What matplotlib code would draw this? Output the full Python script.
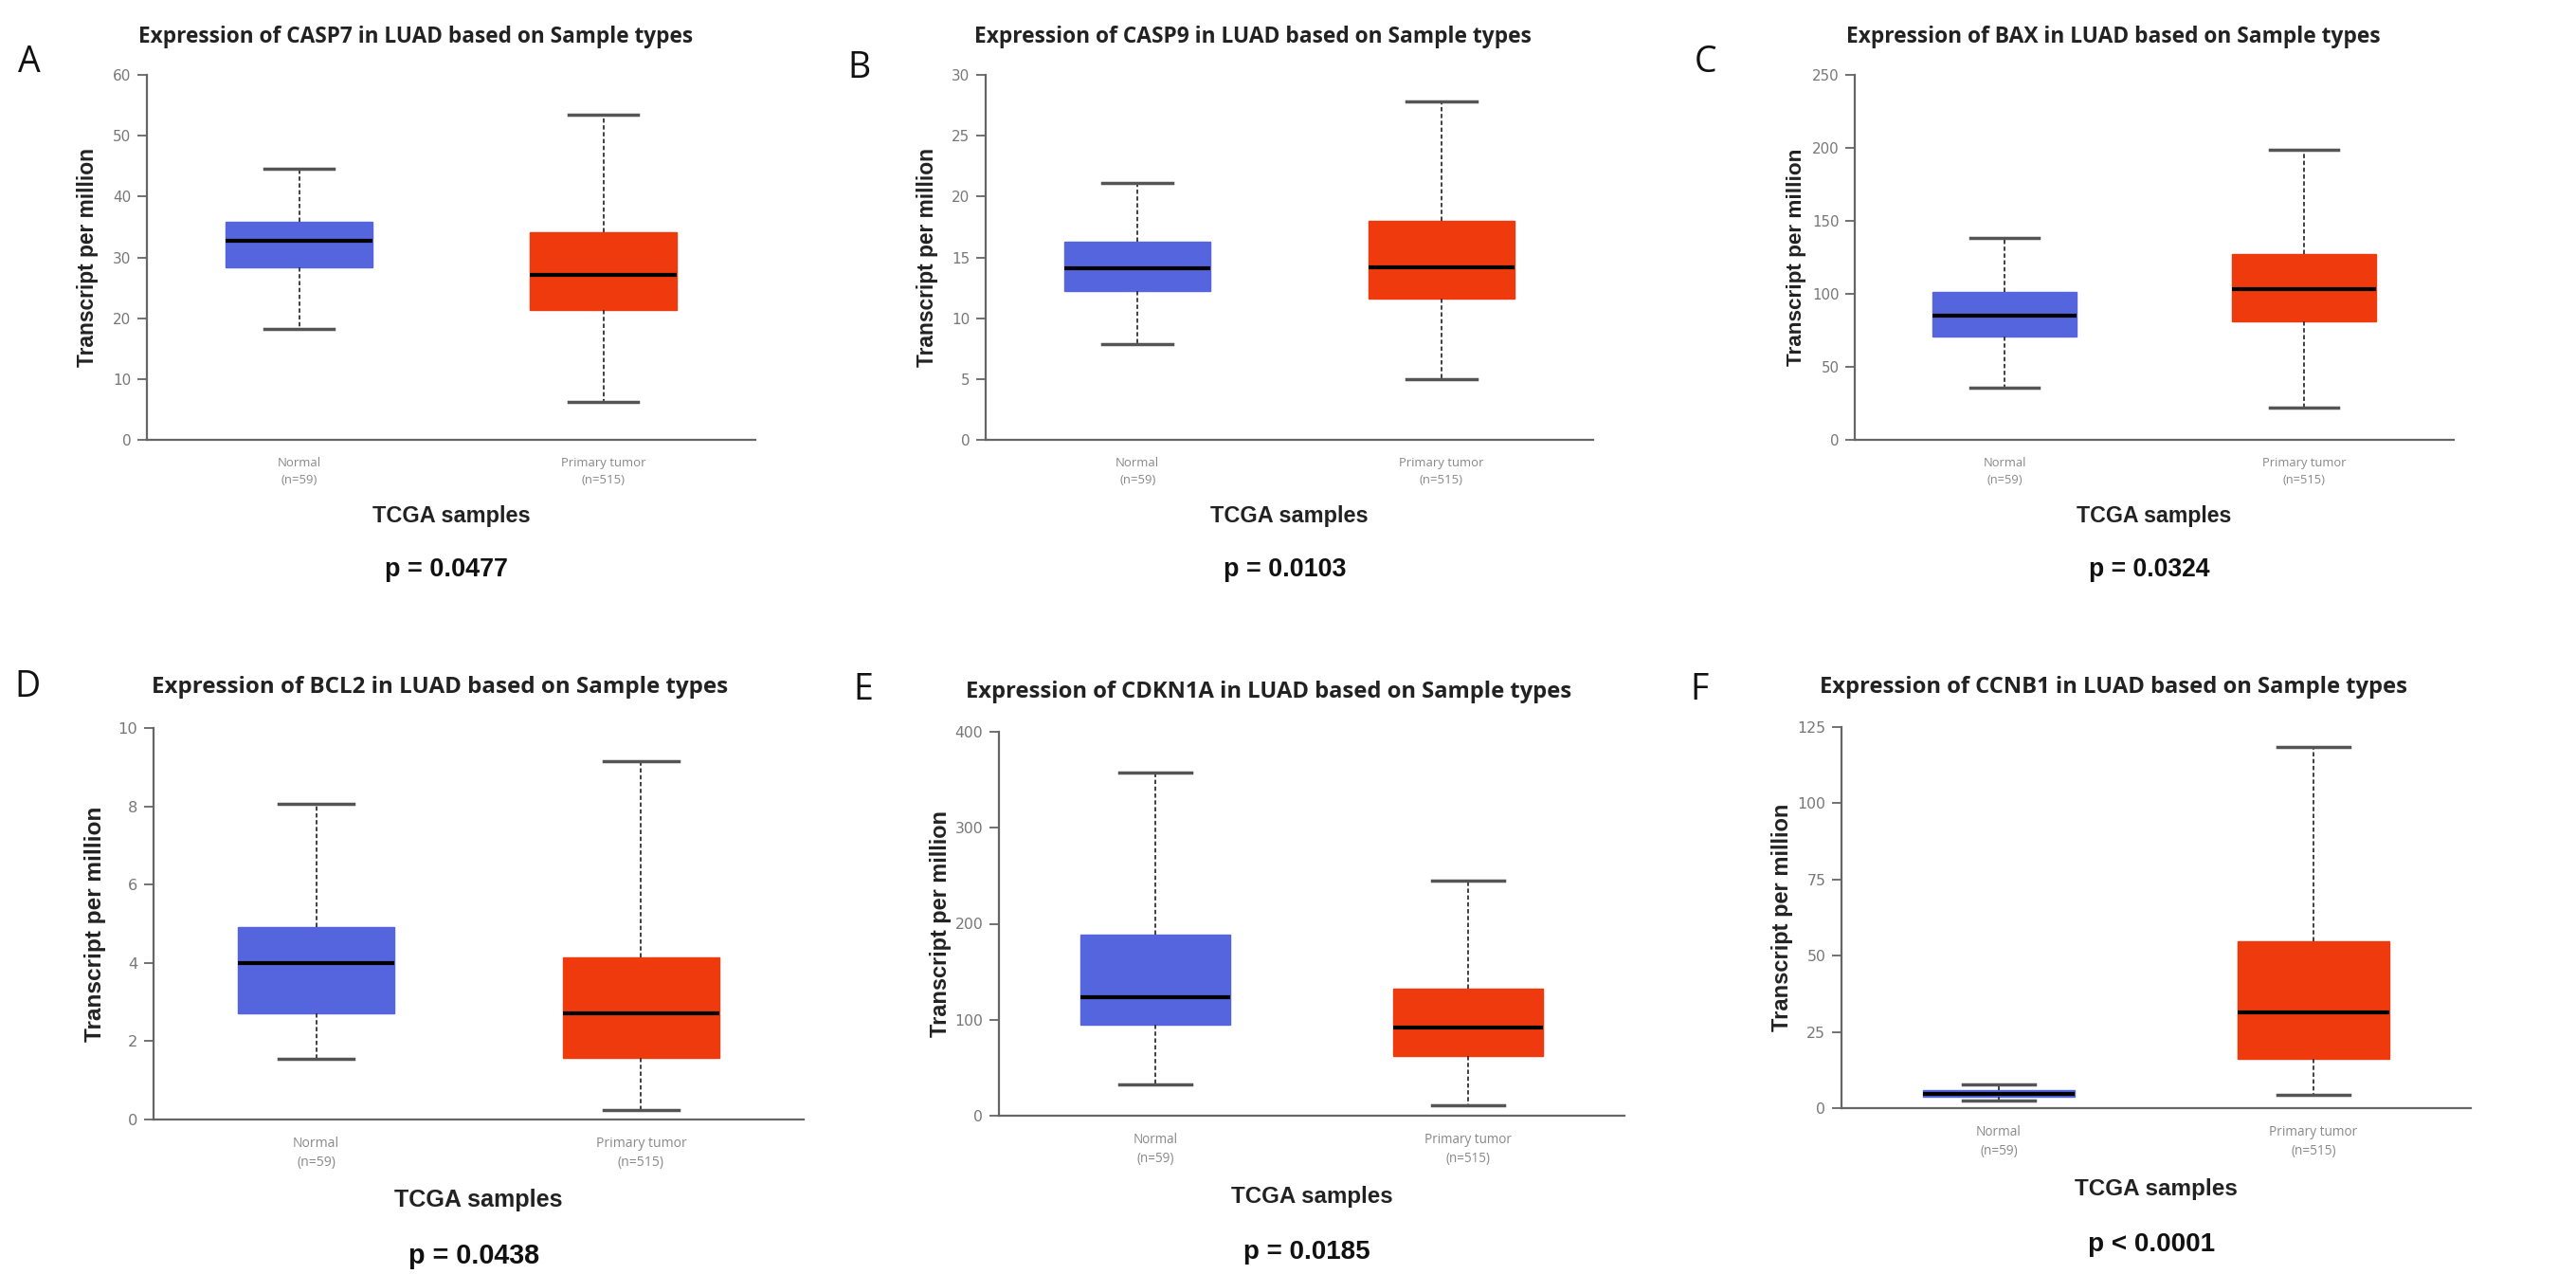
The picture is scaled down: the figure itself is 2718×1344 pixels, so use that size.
import matplotlib
matplotlib.use("Agg")
import matplotlib.pyplot as plt

# box stats: whisker low, q1, median, q3, whisker high
genes = ["CASP7", "CASP9", "BAX", "BCL2", "CDKN1A", "CCNB1"]
letters = ["A", "B", "C", "D", "E", "F"]
p_texts = ["p = 0.0477", "p = 0.0103", "p = 0.0324", "p = 0.0438", "p = 0.0185", "p < 0.0001"]

normal_stats = [
    [18.3, 28.3, 32.7, 35.9, 44.5],
    [7.9, 12.2, 14.1, 16.3, 21.1],
    [36, 71, 85, 101, 138],
    [1.54, 2.70, 3.99, 4.92, 8.07],
    [33, 95, 123, 189, 358],
    [2.5, 3.6, 4.8, 5.9, 7.7],
]
tumor_stats = [
    [6.3, 21.3, 27.1, 34.1, 53.4],
    [5.0, 11.6, 14.2, 18.0, 27.8],
    [22, 81, 103, 127, 199],
    [0.25, 1.58, 2.72, 4.15, 9.15],
    [11, 62, 92, 132, 245],
    [4.5, 16.2, 31.5, 54.8, 118.4],
]
y_ticks = [
    [0, 10, 20, 30, 40, 50, 60],
    [0, 5, 10, 15, 20, 25, 30],
    [0, 50, 100, 150, 200, 250],
    [0, 2, 4, 6, 8, 10],
    [0, 100, 200, 300, 400],
    [0, 25, 50, 75, 100, 125],
]
groups = ["Normal\n(n=59)", "Primary tumor\n(n=515)"]
colors = ["#5465DE", "#EF3A0E"]

W, H = 2718, 1344
# axes boxes in pixels: left, right, top, bottom
boxes_px = [
    (155, 797, 79, 464),
    (1040, 1681, 79, 464),
    (1957, 2589, 79, 464),
    (162, 848, 768, 1181),
    (1054, 1714, 772, 1177),
    (1943, 2607, 767, 1169),
]
# title spans in pixels: left, right, y
title_px = [
    (145, 732, 39), (1027, 1616, 39), (1948, 2511, 39),
    (160, 769, 725), (1019, 1659, 730), (1920, 2541, 725),
]
letter_px = [(31, 66), (906, 72), (1800, 66), (29, 725), (911, 728), (1793, 728)]

fig = plt.figure(figsize=(W / 100, H / 100), dpi=100)
fig.patch.set_facecolor("white")
renderer = fig.canvas.get_renderer()

for i in range(6):
    l, r, t, b = boxes_px[i]
    ax = fig.add_axes([l / W, 1 - b / H, (r - l) / W, (b - t) / H])
    scale = (r - l) / 645

    stats = []
    for vals in (normal_stats[i], tumor_stats[i]):
        stats.append({"whislo": vals[0], "q1": vals[1], "med": vals[2],
                      "q3": vals[3], "whishi": vals[4], "fliers": []})
    bp = ax.bxp(stats, positions=[1, 2], widths=0.48, capwidths=0.23,
                patch_artist=True, showfliers=False,
                medianprops=dict(color="black", linewidth=3),
                whiskerprops=dict(color="#333333", linewidth=1.3, linestyle=(0, (2.5, 1.5))),
                capprops=dict(color="#555555", linewidth=2.5))
    for patch, c in zip(bp["boxes"], colors):
        patch.set_facecolor(c)
        patch.set_edgecolor(c)
        patch.set_linewidth(1)

    ax.set_xlim(0.5, 2.5)
    ax.set_ylim(0, y_ticks[i][-1])
    ax.set_yticks(y_ticks[i])
    ax.set_xticks([1, 2])
    ax.set_xticklabels(groups, fontsize=9.5 * scale, color="#888888", linespacing=1.45,
                       family="Open Sans")
    ax.tick_params(axis="x", length=0, pad=13)
    ax.tick_params(axis="y", length=7, width=1.3, color="#666666",
                   labelsize=11 * scale, labelcolor="#777777", pad=5)
    for lab in ax.get_yticklabels():
        lab.set_family(["Liberation Sans Narrow", "DejaVu Sans"])
    for sp in ["top", "right"]:
        ax.spines[sp].set_visible(False)
    for sp in ["left", "bottom"]:
        ax.spines[sp].set_color("#666666")
        ax.spines[sp].set_linewidth(1.6)

    aw = r - l
    ax.text(-62 / aw, 0.5, "Transcript per million", transform=ax.transAxes,
            rotation=90, ha="center", va="center", fontsize=16.5 * scale,
            fontweight="bold", family="Liberation Sans", color="#222222")

    # title sized to the width it has in the picture
    tl, tr, ty = title_px[i]
    title = fig.text((tl + tr) / 2 / W, 1 - ty / H,
                     "Expression of " + genes[i] + " in LUAD based on Sample types",
                     ha="center", va="center", fontsize=16, fontweight="bold",
                     family="Open Sans", color="#222222")
    tw = title.get_window_extent(renderer).width
    title.set_fontsize(16 * (tr - tl) / tw)

    cx = (l + r) / 2
    off = 81 if i < 3 else 85
    fig.text(cx / W, 1 - (b + off) / H, "TCGA samples", ha="center", va="center",
             fontsize=17 * scale, fontweight="bold", family="Liberation Sans", color="#222222")
    poff = 137 if i < 3 else 144
    fig.text((cx - 5) / W, 1 - (b + poff) / H, p_texts[i], ha="center", va="center",
             fontsize=19.5 * scale, fontweight="bold", family="Liberation Sans", color="#111111")

    lx, ly = letter_px[i]
    fig.text(lx / W, 1 - ly / H, letters[i], ha="center", va="center",
             fontsize=27, family="Open Sans", color="#111111")

fig.savefig("out.png", dpi=100, facecolor="white")
